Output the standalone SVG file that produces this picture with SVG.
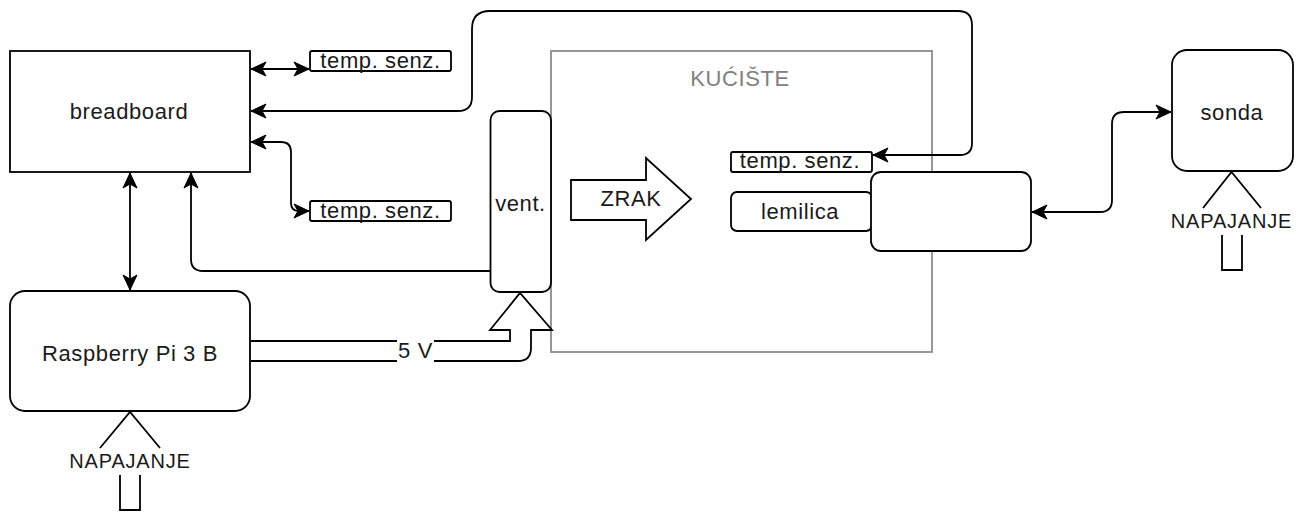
<svg xmlns="http://www.w3.org/2000/svg" width="1308" height="513" viewBox="0 0 1308 513">
<style>
.box{fill:#fff;stroke:#000;stroke-width:1.8}
.gray{fill:none;stroke:#8c8c8c;stroke-width:1.8}
.ln{fill:none;stroke:#000;stroke-width:1.8}
.t{font-family:"Liberation Sans",Arial,sans-serif;font-size:22px;letter-spacing:0.6px;fill:#1a1a1a;text-anchor:middle}
.tn{font-family:"Liberation Sans",Arial,sans-serif;font-size:20px;letter-spacing:0.8px;fill:#1a1a1a;text-anchor:middle}
.tg{font-family:"Liberation Sans",Arial,sans-serif;font-size:22px;letter-spacing:0.6px;fill:#808080;text-anchor:middle}
.arr{marker-end:url(#ah)}
.arr2{marker-start:url(#ah);marker-end:url(#ah)}
</style>
<defs>
<marker id="ah" markerUnits="userSpaceOnUse" viewBox="-16 -8 17 16" refX="0" refY="0" markerWidth="17" markerHeight="16" orient="auto-start-reverse">
<path d="M0,0 L-15,-7 L-11,0 L-15,7 Z" fill="#000" stroke="#000" stroke-width="1"/>
</marker>
</defs>
<rect width="1308" height="513" fill="#fff"/>

<g id="kuciste">
<rect class="gray" x="551" y="51" width="381" height="301"/>
<text class="tg" x="740" y="86">KUĆIŠTE</text>
</g>

<g id="connectors">
<path class="ln arr2" d="M251,69 L309,69"/>
<path class="ln arr2" d="M873,155 L960,155 Q972,155 972,143 L972,25 Q972,11 958,11 L490,11 Q472,11 472,29 L472,97 Q472,111 458,111 L251,111"/>
<path class="ln arr2" d="M251,142 L281,142 Q291,142 291,152 L291,203 Q291,211 299,211 L309,211"/>
<path class="ln arr2" d="M130,173 L130,290"/>
<path class="ln arr" d="M490,271 L203,271 Q191,271 191,259 L191,173"/>
<path class="ln arr2" d="M1032,212 L1100,212 Q1112,212 1112,200 L1112,124 Q1112,112 1124,112 L1171,112"/>
<path class="ln" d="M251,341 L510,341 L510,330 L490,330 L520,293 L552,330 L531,330 L531,348 Q531,361 518,361 L251,361"/>
<rect x="397" y="336" width="37" height="30" fill="#fff"/>
<text class="t" x="415.5" y="358">5 V</text>
</g>

<g id="breadboard">
<rect class="box" x="10" y="51" width="240" height="121"/>
<text class="t" x="129" y="119">breadboard</text>
</g>

<g id="temp1">
<rect class="box" x="310" y="51" width="141" height="20" rx="2"/>
<text class="t" x="380.5" y="68">temp. senz.</text>
</g>

<g id="temp2">
<rect class="box" x="310" y="201" width="141" height="20" rx="2"/>
<text class="t" x="380.5" y="218">temp. senz.</text>
</g>

<g id="temp3">
<rect class="box" x="731" y="152" width="141" height="20" rx="2"/>
<text class="t" x="800" y="168">temp. senz.</text>
</g>

<g id="vent">
<rect class="box" x="490.5" y="111" width="60.5" height="181" rx="9"/>
<text class="t" x="520.5" y="211">vent.</text>
</g>

<g id="zrak">
<polygon class="box" points="571,180 646,180 646,158 691,199 646,240 646,220 571,220"/>
<text class="t" x="631" y="206">ZRAK</text>
</g>

<g id="lemilica">
<rect class="box" x="731" y="192" width="141" height="39" rx="6"/>
<text class="t" x="800" y="219">lemilica</text>
</g>

<g id="unit">
<rect class="box" x="871" y="172" width="160" height="79" rx="10"/>
</g>

<g id="sonda">
<rect class="box" x="1172" y="50" width="121" height="121" rx="15"/>
<text class="t" x="1232" y="120">sonda</text>
</g>

<g id="napajanje2">
<path class="ln" d="M1203,208 L1231.5,172 L1261,208"/>
<path class="ln" d="M1222,235 L1222,270 L1242,270 L1242,235"/>
<text class="tn" x="1231.5" y="228">NAPAJANJE</text>
</g>

<g id="raspberry">
<rect class="box" x="10" y="291" width="240" height="120" rx="15"/>
<text class="t" x="130" y="361">Raspberry Pi 3 B</text>
</g>

<g id="napajanje1">
<path class="ln" d="M100,448 L130,412 L160,448"/>
<path class="ln" d="M120,475 L120,510 L140,510 L140,475"/>
<text class="tn" x="130" y="468">NAPAJANJE</text>
</g>
</svg>
